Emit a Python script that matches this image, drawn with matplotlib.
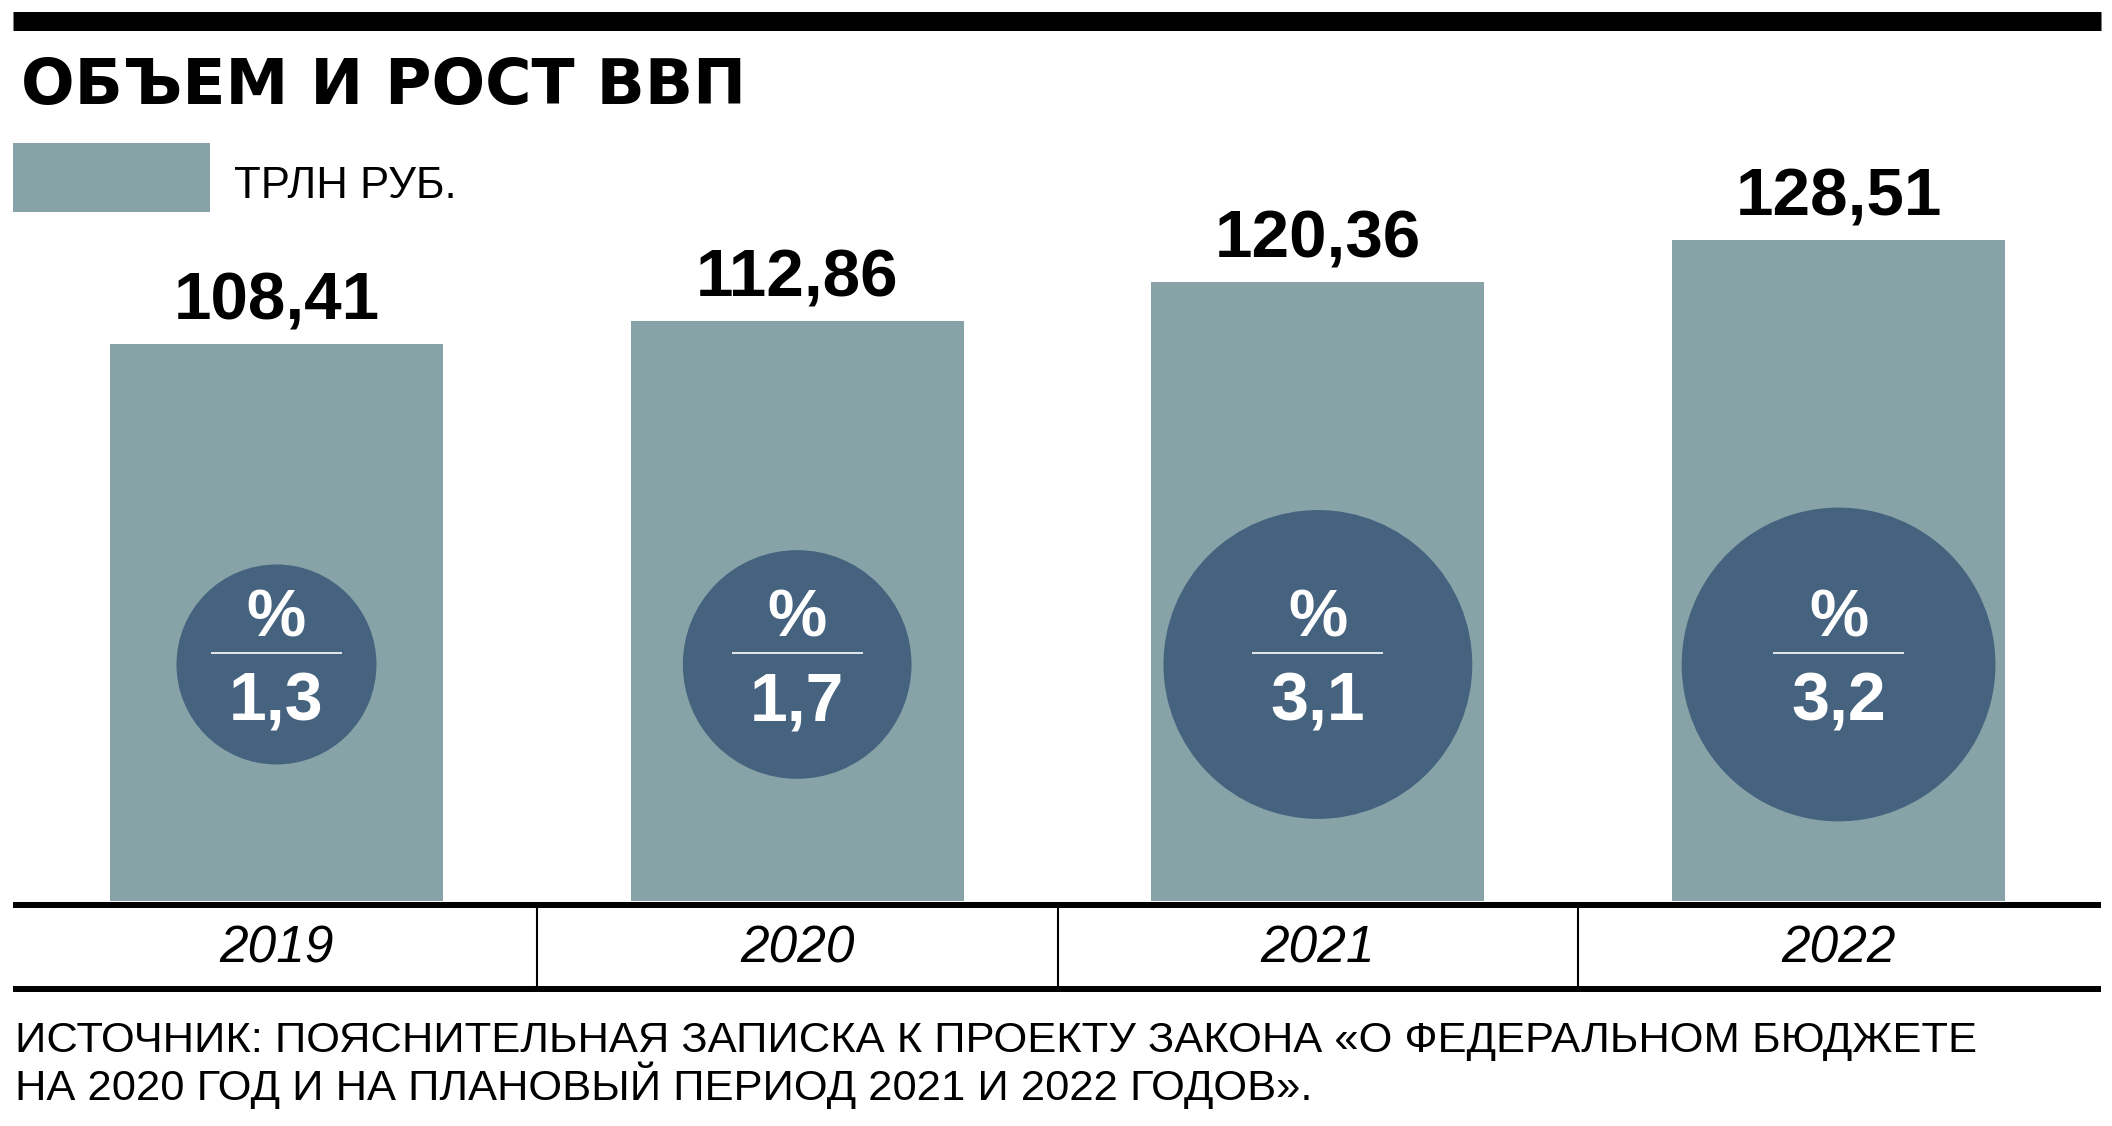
import matplotlib
matplotlib.use("Agg")
import numpy as np
from matplotlib import pyplot as plt
from matplotlib.patches import Rectangle
from matplotlib.lines import Line2D

# data
years = ["2019", "2020", "2021", "2022"]
gdp = [108.41, 112.86, 120.36, 128.51]      # трлн руб.
growth = [1.3, 1.7, 3.1, 3.2]               # рост, %

title = "ОБЪЕМ И РОСТ ВВП"
unit_label = "ТРЛН РУБ."
source_lines = ["ИСТОЧНИК: ПОЯСНИТЕЛЬНАЯ ЗАПИСКА К ПРОЕКТУ ЗАКОНА «О ФЕДЕРАЛЬНОМ БЮДЖЕТЕ",
                "НА 2020 ГОД И НА ПЛАНОВЫЙ ПЕРИОД 2021 И 2022 ГОДОВ»."]

BAR = "#87a3a8"
CIRCLE = "#45637f"
W, H = 2112, 1126

plt.rcParams["font.family"] = ["Liberation Sans", "DejaVu Sans"]

fig = plt.figure(figsize=(W / 100, H / 100), dpi=100)

# axes placed in pixel terms: baseline at y=901 px from top
ax_left, ax_right = 13, 2101
ax_bottom, ax_top = 901, 140
ax = fig.add_axes([ax_left / W, (H - ax_bottom) / H,
                   (ax_right - ax_left) / W, (ax_bottom - ax_top) / H])
ax.set_xlim(-0.506, 3.504)
ax.set_ylim(0, 148)
ax.axis("off")

x = np.arange(len(years))
ax.bar(x, gdp, width=0.64, color=BAR, zorder=1)

for xi, v in zip(x, gdp):
    ax.annotate(f"{v:.2f}".replace(".", ","), xy=(xi, v), xytext=(0, 17.5),
                textcoords="offset points", ha="center", va="baseline",
                fontsize=48.5, fontweight="bold", color="black")

# growth circles, area proportional to growth
circle_y = 46
ax.scatter(x, [circle_y] * len(x), s=[15950 * g for g in growth],
           color=CIRCLE, linewidths=0, zorder=2)

for xi, g in zip(x, growth):
    ax.annotate("%", xy=(xi, circle_y), xytext=(0, 19.8),
                textcoords="offset points", ha="center", va="baseline",
                fontsize=48, fontweight="bold", color="white", zorder=3)
    ax.annotate(f"{g:.1f}".replace(".", ","), xy=(xi, circle_y), xytext=(0, -40),
                textcoords="offset points", ha="center", va="baseline",
                fontsize=49, fontweight="bold", color="white", zorder=3)
    ax.plot([xi - 0.126, xi + 0.126], [circle_y + 2.24] * 2, color="white",
            lw=1.2, zorder=3, solid_capstyle="butt")

# year row
for xi, yr in zip(x, years):
    ax.annotate(yr, xy=(xi, 0), xytext=(0, -44.6), textcoords="offset points",
                ha="center", va="baseline", fontsize=37, fontstyle="italic",
                color="black")

def fig_hline(y_px, x0, x1, lw_px):
    fig.add_artist(Line2D([x0 / W, x1 / W], [(H - y_px) / H] * 2,
                          color="black", lw=lw_px * 0.72,
                          solid_capstyle="butt"))

fig_hline(20.5, 13, 2101, 19)
fig_hline(904.5, 13, 2101, 6)
fig_hline(989, 13, 2101, 6)
for xs in x[:-1] + 0.5:
    ax.plot([xs, xs], [-1.17, -16.54], color="black", lw=1.5,
            clip_on=False, solid_capstyle="butt")

# title and legend
fig.text(21 / W, (H - 104) / H, title, fontsize=45.5, fontweight="bold",
         family=["DejaVu Sans"], color="black", va="baseline")
fig.add_artist(Rectangle((13 / W, (H - 212) / H), 197 / W, 69 / H,
                         transform=fig.transFigure, color=BAR, lw=0))
fig.text(234 / W, (H - 198) / H, unit_label, fontsize=31.5, color="black",
         va="baseline")

for i, line in enumerate(source_lines):
    fig.text(15 / W, (H - 1052 - 48 * i) / H, line, fontsize=31.3,
             color="black", va="baseline")

fig.savefig("out.png", dpi=100)
